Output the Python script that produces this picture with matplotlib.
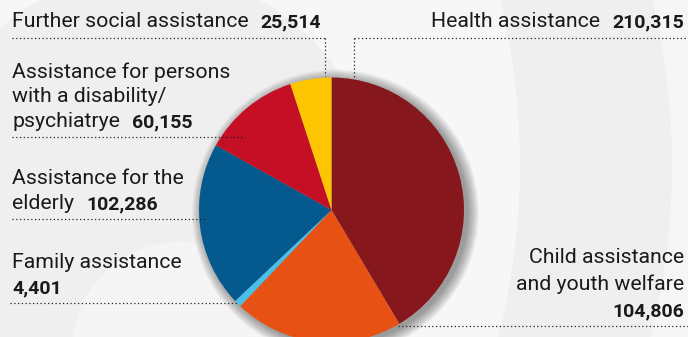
import matplotlib.pyplot as plt
from matplotlib.patches import Circle

W, H = 688, 337

# slices, clockwise from 12 o'clock
labels = ["Health assistance", "Child assistance\nand youth welfare", "Family assistance",
          "Assistance for the\nelderly", "Assistance for persons\nwith a disability/\npsychiatrye",
          "Further social assistance"]
values = [210315, 104806, 4401, 102286, 60155, 25514]
colors = ["#86171c", "#e75214", "#49c0ea", "#045a8e", "#c40f25", "#fdc400"]

plt.rcParams['font.family'] = ['Roboto', 'DejaVu Sans']
txt_col = "#1a1a1a"
fs = 15.3
fs_num = 14
gap = 12

fig = plt.figure(figsize=(W / 100, H / 100), dpi=100)
ax = fig.add_axes([0, 0, 1, 1])

def Y(y):
    # picture rows run downwards
    return H - y

# background rings
ax.add_patch(plt.Rectangle((0, 0), W, H, color="#f6f6f6", zorder=0))
ax.add_patch(Circle((-30, Y(165)), 702, color="#efefef", lw=0, zorder=0))
ax.add_patch(Circle((-170, Y(165)), 690, color="#f7f7f7", lw=0, zorder=0))
ax.add_patch(Circle((150, Y(200)), 228, color="#efefef", lw=0, zorder=0))
ax.add_patch(Circle((180, Y(350)), 108, color="#f5f5f5", lw=0, zorder=0))

cx, cy, r = 331.5, Y(210), 132.5

# soft drop shadow
for i in range(12):
    ax.add_patch(Circle((cx + 4, cy - 3), r + 11 - i, color="black", alpha=0.035, lw=0, zorder=1))

ax.pie(values, colors=colors, startangle=90, counterclock=False, radius=r,
       center=(cx, cy), wedgeprops=dict(linewidth=0, zorder=2), frame=True)

ax.set_xlim(0, W)
ax.set_ylim(0, H)
ax.set_aspect("equal")
ax.axis("off")

renderer = fig.canvas.get_renderer()
dot = dict(color="#222222", lw=0.9, dashes=(1, 2), zorder=3)
fmt = lambda v: f"{v:,}"

def txt(x, y, s, ha="left", bold=False):
    return ax.text(x, Y(y), s, fontsize=fs_num if bold else fs, color=txt_col, va="baseline",
                   ha=ha, fontweight="bold" if bold else "normal")

def width(t):
    # text width in data units (1 unit = 1 px here)
    return t.get_window_extent(renderer).width

def left_label(lines, num, x, y0, step):
    for k, line in enumerate(lines):
        t = txt(x, y0 + k * step, line)
    txt(x + width(t) + gap, y0 + (len(lines) - 1) * step, num, bold=True)

# Further social assistance
left_label(["Further social assistance"], fmt(values[5]), 12, 27, 25)
ax.plot([12, 325], [Y(38), Y(38)], **dot)
ax.plot([325, 325], [Y(38), Y(76)], **dot)

# Health assistance (right aligned)
n = txt(684, 27, fmt(values[0]), ha="right", bold=True)
txt(684 - width(n) - gap, 27, labels[0], ha="right")
ax.plot([354, W], [Y(38), Y(38)], **dot)
ax.plot([354, 354], [Y(38), Y(77)], **dot)

# disability
left_label(labels[4].split("\n"), fmt(values[4]), 12, 78, 24.5)
ax.plot([12, 245], [Y(137), Y(137)], **dot)

# elderly
left_label(labels[3].split("\n"), fmt(values[3]), 12, 184, 25)
ax.plot([12, 205], [Y(219), Y(219)], **dot)

# family
txt(12, 268, labels[2])
txt(12, 293, fmt(values[2]), bold=True)
ax.plot([10, 237], [Y(303), Y(303)], **dot)

# child (right aligned)
for k, line in enumerate(labels[1].split("\n")):
    txt(684, 263 + k * 26.5, line, ha="right")
txt(684, 316, fmt(values[1]), ha="right", bold=True)
ax.plot([398, W], [Y(326), Y(326)], **dot)

fig.savefig("out.png", dpi=100)
